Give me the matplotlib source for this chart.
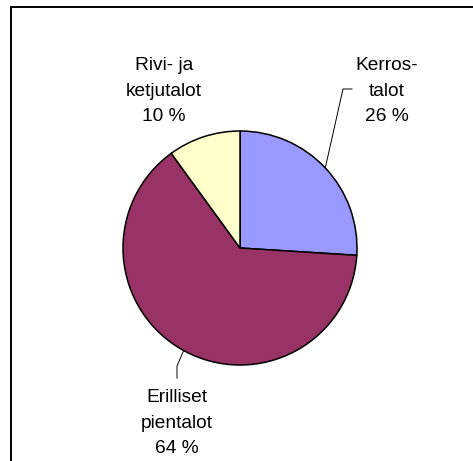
import numpy as np
import matplotlib.pyplot as plt
from matplotlib.patches import Rectangle

plt.rcParams['font.family'] = ['Liberation Sans', 'DejaVu Sans']

# data
labels = ['Kerros-\ntalot', 'Erilliset\npientalot', 'Rivi- ja\nketjutalot']
shares = [26, 64, 10]
colors = ['#9999FF', '#993366', '#FFFFCC']

W, H = 473, 461
fig = plt.figure(figsize=(W / 100, H / 100), dpi=100)
ax = fig.add_axes([0, 0, 1, 1])

cx, cy, r = 240, H - 248, 117
wedges, _ = ax.pie(shares, colors=colors, startangle=90, counterclock=False,
                   center=(cx, cy), radius=r,
                   wedgeprops=dict(edgecolor='black', linewidth=1.1))
ax.set_xlim(0, W)
ax.set_ylim(0, H)
ax.set_aspect('equal')
ax.axis('off')

# label positions (pixel coords, y from top) and leader elbows
label_pos = [(387, 91), (177, 423), (164, 91)]
elbows = [[(343, 89), (352, 89)], [(177, 366), (177, 378)], None]

for w, lab, share, (lx, ly), elb in zip(wedges, labels, shares, label_pos, elbows):
    ax.text(lx, H - ly, f'{lab}\n{share} %', ha='center', va='center',
            fontsize=13.8, linespacing=1.62)
    if elb:
        ang = np.deg2rad((w.theta1 + w.theta2) / 2)
        xs = [cx + r * np.cos(ang)] + [p[0] for p in elb]
        ys = [cy + r * np.sin(ang)] + [H - p[1] for p in elb]
        ax.plot(xs, ys, color='black', lw=0.7)

# outer chart frame (cut off at the right and bottom)
fig.patches.append(Rectangle((10.5 / W, -0.1), 1.2, (H - 7) / H + 0.1,
                             transform=fig.transFigure, fill=False,
                             edgecolor='black', linewidth=1.4))

fig.savefig('out.png', dpi=100)
